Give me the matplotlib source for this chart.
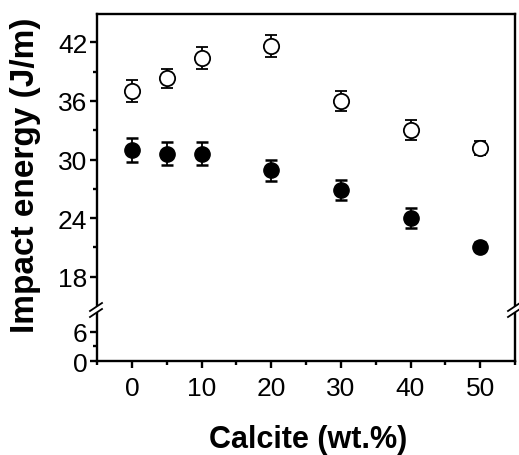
import matplotlib
matplotlib.use("Agg")
import matplotlib.pyplot as plt
from matplotlib.lines import Line2D
from matplotlib.patches import Polygon

plt.rcParams["font.family"] = ["Liberation Sans", "DejaVu Sans"]

# Data
calcite = [0, 5, 10, 20, 30, 40, 50]
open_energy = [37.0, 38.3, 40.4, 41.6, 36.0, 33.0, 31.2]
open_err = [1.1, 1.0, 1.1, 1.1, 1.0, 1.0, 0.7]
filled_energy = [31.0, 30.6, 30.6, 28.9, 26.9, 24.0, 21.1]
filled_err = [1.2, 1.2, 1.2, 1.1, 1.0, 1.0, 0.5]

xticks = [0, 10, 20, 30, 40, 50]
upper_ticks = [18, 24, 30, 36, 42]
lower_ticks = [0, 6]

W, H = 519, 456
fig = plt.figure(figsize=(W / 100, H / 100), dpi=100)

left, right = 97 / W, 515 / W
top_y, split_y, bot_y = 15, 311, 362
ax_top = fig.add_axes((left, 1 - split_y / H, right - left, (split_y - top_y) / H))
ax_bot = fig.add_axes((left, 1 - bot_y / H, right - left, (bot_y - split_y) / H))

lw = 1.7
for ax in (ax_top, ax_bot):
    ax.set_xlim(-5, 55)
    for s in ax.spines.values():
        s.set_linewidth(lw)
    ax.tick_params(which="major", direction="out", length=5, width=lw, labelsize=19)
    ax.tick_params(which="minor", direction="out", length=3, width=lw)
    ax.tick_params(right=False, top=False)
    ax.tick_params(axis="y", pad=2)

ax_top.spines["bottom"].set_visible(False)
ax_bot.spines["top"].set_visible(False)
ax_top.tick_params(bottom=False, labelbottom=False, which="both")

ax_top.set_ylim(14.6, 44.9)
ax_top.set_yticks(upper_ticks)
ax_top.set_yticks([21, 27, 33, 39], minor=True)

ax_bot.set_ylim(0, 10.55)
ax_bot.set_yticks(lower_ticks)
ax_bot.set_yticks([3], minor=True)
ax_bot.set_xticks(xticks)
ax_bot.set_xticks([-5, 5, 15, 25, 35, 45, 55], minor=True)
ax_bot.tick_params(axis="x", pad=6)

ax_top.errorbar(calcite, open_energy, yerr=open_err, fmt="o", ms=11,
                mfc="white", mec="black", mew=1.3, ecolor="black",
                elinewidth=1.3, capsize=4.5, capthick=1.8, zorder=3)
ax_top.errorbar(calcite, filled_energy, yerr=filled_err, fmt="o", ms=11,
                mfc="black", mec="black", ecolor="black",
                elinewidth=1.3, capsize=4.5, capthick=1.8, zorder=3)

# break marks on both vertical spines
for xp in (97, 515):
    for dy in (-3, 3):
        yc = split_y + dy
        x0, x1 = xp - 7, xp + 5
        y0, y1 = yc + 4, yc - 4
        if dy < 0:
            poly = Polygon([(x0 / W, 1 - y0 / H), (x1 / W, 1 - y1 / H),
                            (x1 / W, 1 - (y1 + 6) / H), (x0 / W, 1 - (y0 + 6) / H)],
                           closed=True, transform=fig.transFigure,
                           facecolor="white", edgecolor="none", zorder=5)
            fig.add_artist(poly)
        fig.add_artist(Line2D([x0 / W, x1 / W], [1 - y0 / H, 1 - y1 / H],
                              transform=fig.transFigure, color="black",
                              lw=1.3, zorder=6))

fig.text(26 / W, 1 - 175 / H, "Impact energy (J/m)", rotation=90,
         ha="center", va="center", fontsize=24, fontweight="bold")
fig.text(308 / W, 1 - 440 / H, "Calcite (wt.%)", ha="center", va="center",
         fontsize=22, fontweight="bold")

fig.savefig("out.png", dpi=100)
